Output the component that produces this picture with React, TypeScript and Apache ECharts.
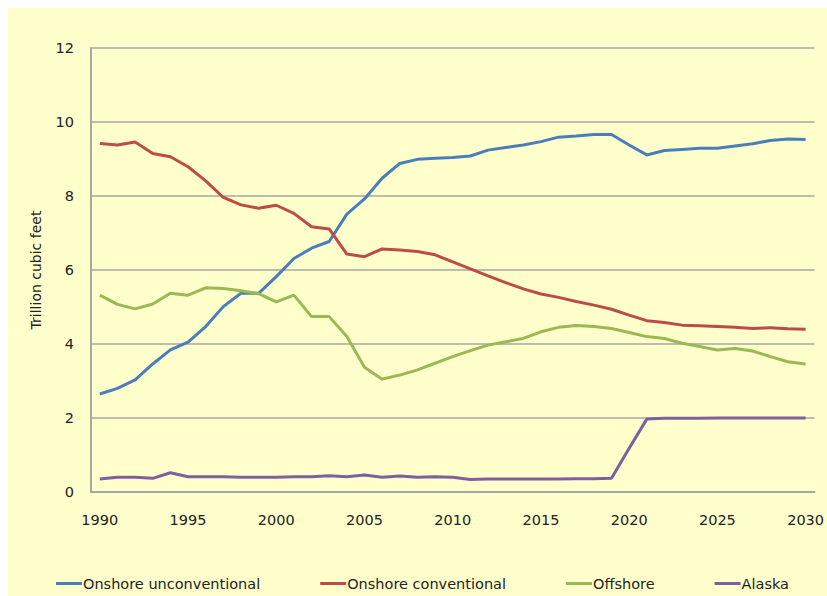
import React, { useEffect, useRef } from "react";
import * as echarts from "echarts";

const years: string[] = [];
for (let y = 1990; y <= 2030; y++) years.push(String(y));

const onshoreUnconventional = [
  2.65, 2.8, 3.03, 3.46, 3.84, 4.05, 4.47, 5.01, 5.37, 5.37,
  5.82, 6.31, 6.59, 6.77, 7.51, 7.92, 8.48, 8.88, 8.99, 9.02,
  9.04, 9.08, 9.24, 9.31, 9.38, 9.47, 9.59, 9.62, 9.66, 9.66,
  9.38, 9.11, 9.23, 9.26, 9.29, 9.29, 9.35, 9.41, 9.5, 9.54, 9.53,
];
const onshoreConventional = [
  9.42, 9.38, 9.46, 9.15, 9.06, 8.79, 8.41, 7.96, 7.76, 7.67,
  7.75, 7.53, 7.17, 7.11, 6.43, 6.36, 6.57, 6.54, 6.5, 6.41,
  6.22, 6.03, 5.84, 5.66, 5.49, 5.35, 5.26, 5.15, 5.05, 4.94,
  4.78, 4.63, 4.58, 4.51, 4.49, 4.47, 4.45, 4.42, 4.44, 4.41, 4.4,
];
const offshore = [
  5.32, 5.07, 4.95, 5.08, 5.37, 5.32, 5.52, 5.5, 5.44, 5.36,
  5.14, 5.32, 4.74, 4.74, 4.2, 3.37, 3.05, 3.16, 3.3, 3.48,
  3.66, 3.82, 3.97, 4.06, 4.15, 4.33, 4.45, 4.5, 4.47, 4.42,
  4.31, 4.2, 4.15, 4.02, 3.93, 3.84, 3.88, 3.81, 3.66, 3.52, 3.46,
];
const alaska = [
  0.35, 0.4, 0.4, 0.37, 0.52, 0.41, 0.41, 0.41, 0.4, 0.4,
  0.4, 0.41, 0.41, 0.44, 0.41, 0.46, 0.4, 0.43, 0.4, 0.41,
  0.4, 0.34, 0.35, 0.35, 0.35, 0.35, 0.35, 0.36, 0.36, 0.37,
  1.18, 1.97, 1.99, 1.99, 1.99, 2.0, 2.0, 2.0, 2.0, 2.0, 2.0,
];

const seriesNames = [
  "Onshore unconventional",
  "Onshore conventional",
  "Offshore",
  "Alaska",
];
const seriesColors = ["#4a7ebb", "#be4b48", "#98b954", "#7d60a0"];
const seriesData = [onshoreUnconventional, onshoreConventional, offshore, alaska];

const FONT = "'DejaVu Sans', Verdana, sans-serif";

export default function App() {
  const ref = useRef<HTMLDivElement>(null);
  useEffect(() => {
    if (!ref.current) return;
    const chart = echarts.init(ref.current, undefined, { renderer: "svg" });
    chart.setOption({
      animation: false,
      backgroundColor: "#ffffcc",
      textStyle: { fontFamily: FONT },
      grid: { left: 83, right: 8, top: 40, bottom: 104 },
      legend: {
        bottom: 0,
        left: 43,
        itemGap: 60,
        itemWidth: 26,
        itemHeight: 3,
        icon: "rect",
        textStyle: {
          fontFamily: FONT,
          fontSize: 14.5,
          color: "#222",
          padding: [0, 0, 0, -4],
        },
        data: seriesNames,
      },
      xAxis: {
        type: "category",
        data: years,
        boundaryGap: true,
        axisLine: { lineStyle: { color: "#a6a6a6", width: 2 } },
        axisTick: { interval: 0, length: 5, lineStyle: { color: "#a6a6a6" } },
        axisLabel: {
          interval: 4,
          margin: 20,
          fontSize: 14.5,
          color: "#222",
          fontFamily: FONT,
        },
        splitLine: { show: false },
      },
      yAxis: {
        type: "value",
        min: 0,
        max: 12,
        interval: 2,
        name: "Trillion cubic feet",
        nameLocation: "middle",
        nameGap: 48,
        nameTextStyle: { fontFamily: FONT, fontSize: 14, color: "#222" },
        axisLine: { show: true, lineStyle: { color: "#a6a6a6", width: 2 } },
        axisTick: { show: false },
        axisLabel: { margin: 17, fontSize: 14.5, color: "#222", fontFamily: FONT },
        splitLine: { lineStyle: { color: "#a6a6a6", width: 1.5 } },
      },
      series: seriesNames.map((name, i) => ({
        name,
        type: "line",
        data: seriesData[i],
        showSymbol: false,
        symbol: "none",
        color: seriesColors[i],
        lineStyle: { width: 3, color: seriesColors[i] },
      })),
    });
    return () => chart.dispose();
  }, []);
  return (
    <div
      ref={ref}
      style={{ position: "fixed", left: 8, top: 8, width: 819, height: 588 }}
    />
  );
}
